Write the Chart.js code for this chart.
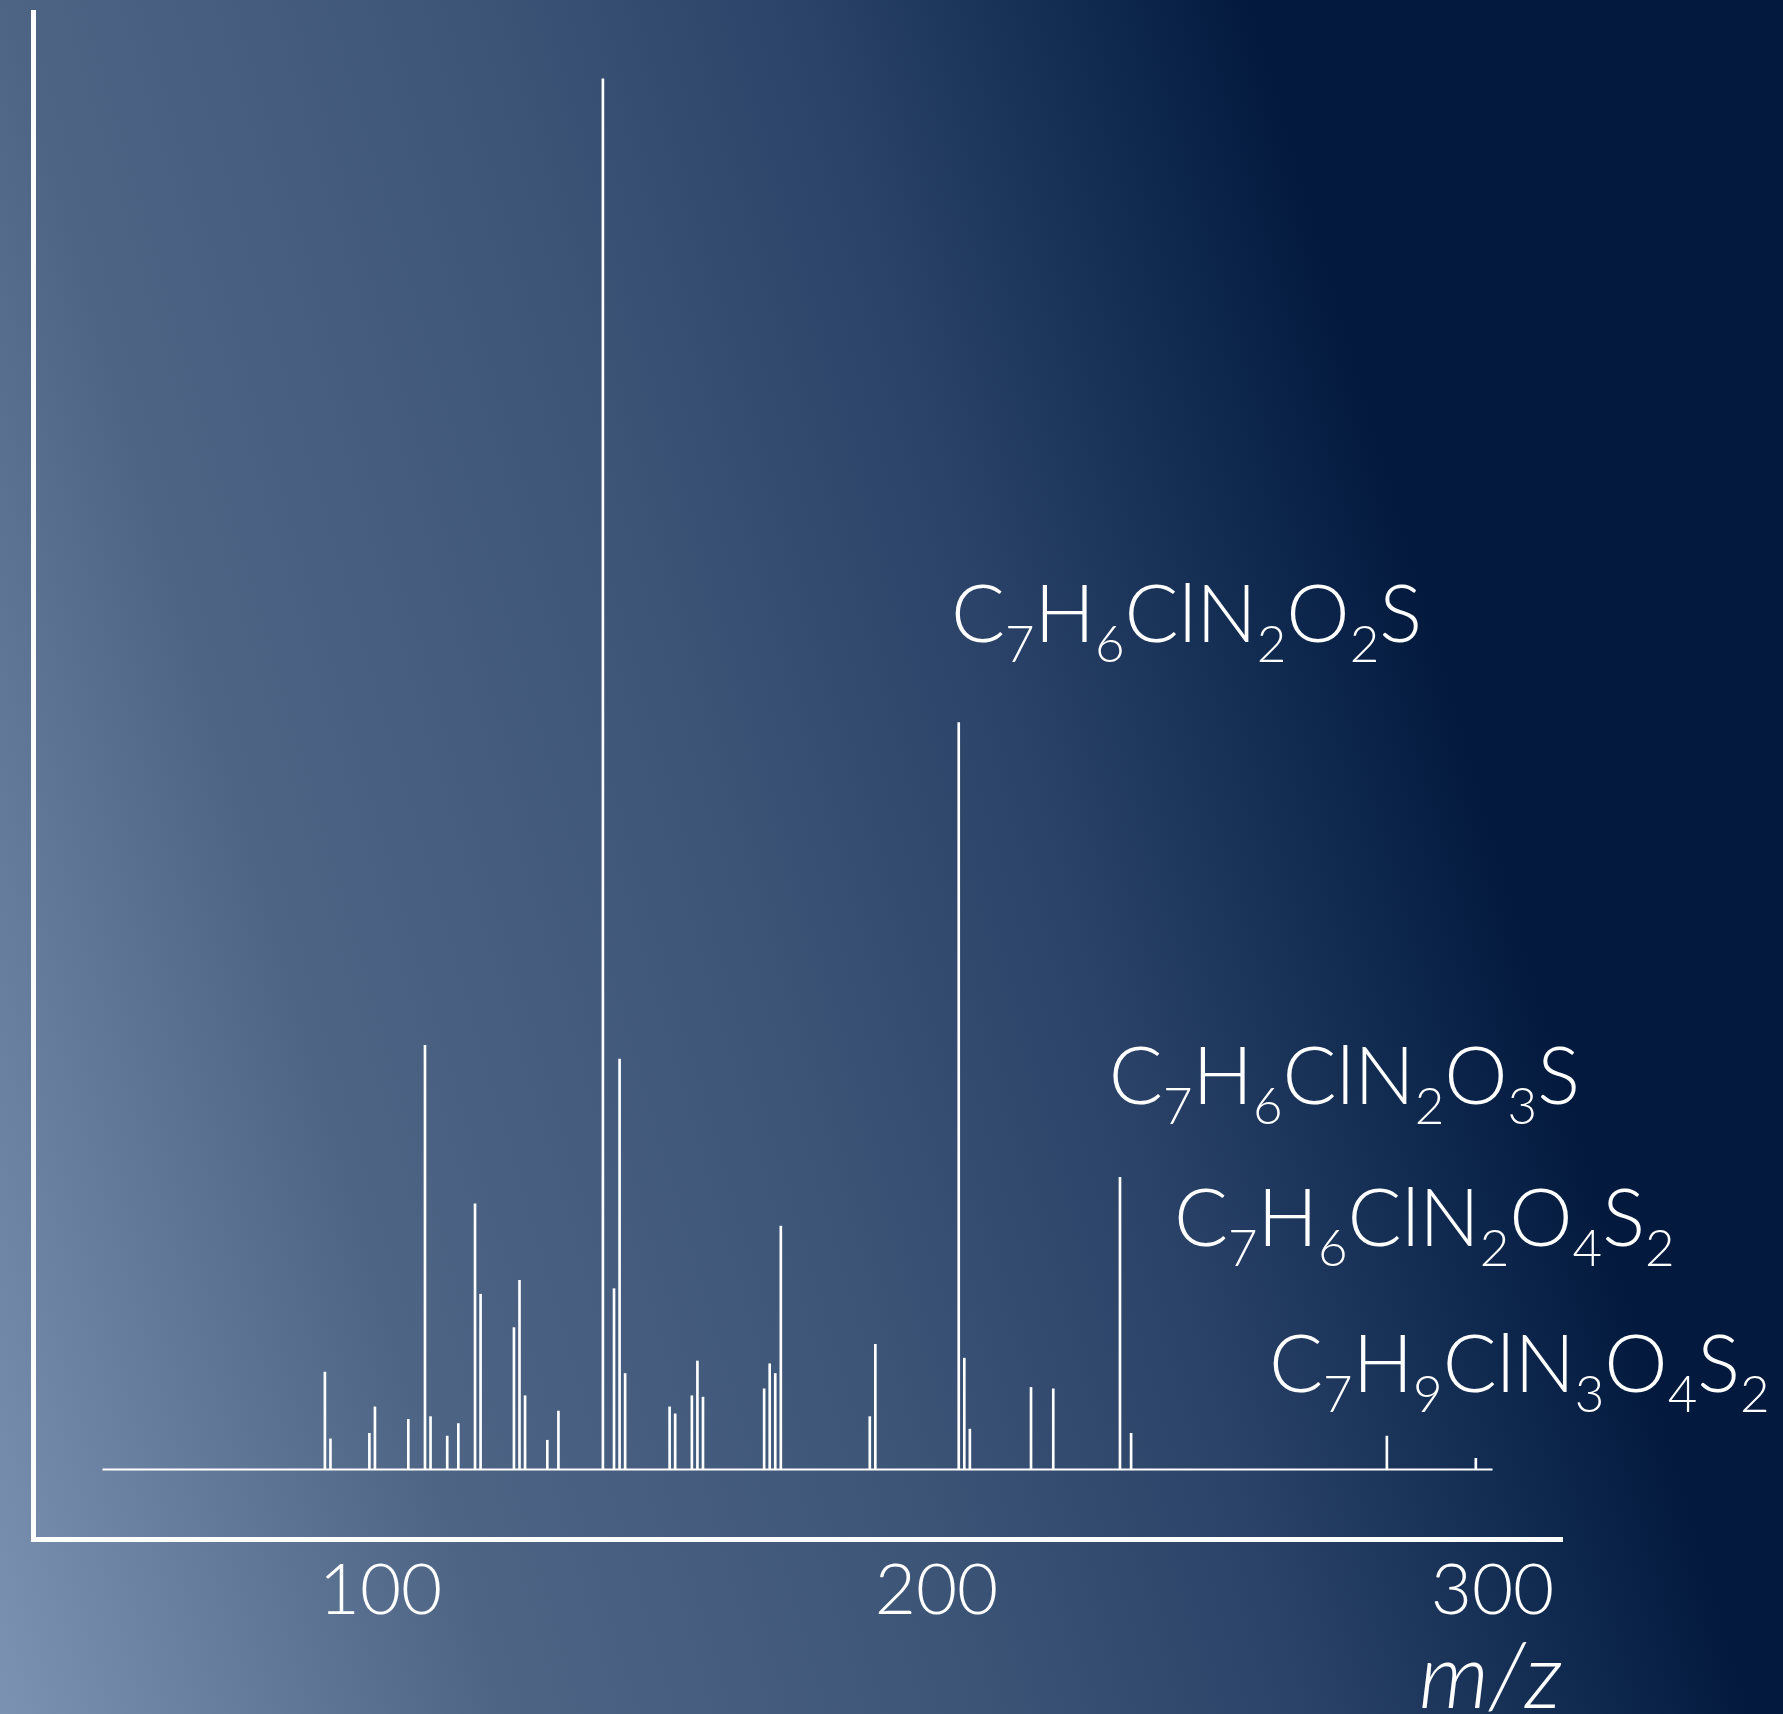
<!DOCTYPE html>
<html>
<head>
<meta charset="utf-8">
<title>Mass spectrum</title>
<script src="https://cdn.jsdelivr.net/npm/chart.js@4.4.1/dist/chart.umd.min.js"></script>
<style>
  html, body { margin: 0; padding: 0; background: #031a3e; overflow: hidden; }
  #wrap { width: 1783px; height: 1714px; }
  canvas { display: block; }
</style>
</head>
<body>
<div id="wrap"><canvas id="spectrum" width="1783" height="1714"></canvas></div>
<script>
// Peak list: m/z and relative intensity (%)
const mzValues = [90, 91, 98, 99, 105, 108, 109, 112, 114, 117,
                  118, 124, 125, 126, 130, 132, 140, 142, 143, 144,
                  152, 153, 156, 157, 158, 169, 170, 171, 172, 188,
                  189, 204, 205, 206, 217, 221, 233, 235, 281, 297];
const intensities = [7.0, 2.2, 2.6, 4.5, 3.6, 30.5, 3.8, 2.4, 3.3, 19.1,
                     12.6, 10.2, 13.6, 5.3, 2.1, 4.2, 100, 13.0, 29.5, 6.9,
                     4.5, 4.0, 5.3, 7.8, 5.2, 5.8, 7.6, 6.9, 17.5, 3.8,
                     9.0, 53.7, 8.0, 2.9, 5.9, 5.8, 21.0, 2.6, 2.4, 0.8];

// Scanned m/z window (drawn as the spectrum baseline)
const scanRange = [50, 300];

// Axis tick labels
const tickValues = [100, 200, 300];

// Fragment formula annotations, anchored in data space (m/z, intensity)
const formulaLabels = ["C7H6ClN2O2S", "C7H6ClN2O3S", "C7H6ClN2O4S2", "C7H9ClN3O4S2"];
const formulaMz = [202.6, 231.0, 242.7, 259.8];
const formulaLevel = [59.5, 26.3, 16.1, 5.6];

const FONT = "Lato, 'Open Sans', 'DejaVu Sans', sans-serif";

const peakPoints = mzValues.map((m, i) => ({ x: m, y: intensities[i] }));
const baselinePoints = scanRange.map(m => ({ x: m, y: 0 }));

// Diagonal slate-to-navy backdrop over the whole canvas
const backdrop = {
  id: 'backdrop',
  beforeDraw(chart) {
    const { ctx, width, height } = chart;
    const g = ctx.createLinearGradient(0, height, 1613, 1244);
    g.addColorStop(0.00, '#7b92b2');
    g.addColorStop(0.29, '#4d6485');
    g.addColorStop(0.55, '#3d5577');
    g.addColorStop(0.75, '#2a4267');
    g.addColorStop(0.90, '#112a50');
    g.addColorStop(1.00, '#031a3e');
    ctx.save();
    ctx.fillStyle = g;
    ctx.fillRect(0, 0, width, height);
    ctx.restore();
  }
};

// Chemical formulas with numeric subscripts
const formulas = {
  id: 'formulas',
  afterDatasetsDraw(chart) {
    const { ctx, scales } = chart;
    const mainFont = `300 80px ${FONT}`;
    const subFont = `300 51px ${FONT}`;
    ctx.save();
    ctx.fillStyle = '#ffffff';
    ctx.textAlign = 'left';
    ctx.textBaseline = 'alphabetic';
    formulaLabels.forEach((f, i) => {
      let x = scales.x.getPixelForValue(formulaMz[i]);
      const y = scales.y.getPixelForValue(formulaLevel[i]);
      const parts = f.match(/[A-Z][a-z]?|\d+/g);
      parts.forEach(p => {
        const isSub = /^\d+$/.test(p);
        ctx.font = isSub ? subFont : mainFont;
        ctx.fillText(p, x, isSub ? y + 20 : y);
        x += ctx.measureText(p).width;
      });
    });
    ctx.restore();
  }
};

new Chart(document.getElementById('spectrum'), {
  type: 'bar',
  data: {
    datasets: [
      {
        type: 'bar',
        data: peakPoints,
        backgroundColor: '#ffffff',
        borderWidth: 0,
        barThickness: 2,
        grouped: false
      },
      {
        type: 'line',
        data: baselinePoints,
        borderColor: '#ffffff',
        borderWidth: 2,
        pointRadius: 0,
        fill: false
      }
    ]
  },
  options: {
    responsive: false,
    animation: false,
    devicePixelRatio: 1,
    layout: { padding: { left: 33, top: 12, right: 221, bottom: 0 } },
    plugins: { legend: { display: false }, tooltip: { enabled: false } },
    scales: {
      x: {
        type: 'linear',
        offset: false,
        min: 37.5,
        max: 312.5,
        afterBuildTicks: s => { s.ticks = tickValues.map(v => ({ value: v })); },
        afterFit: s => { s.height = 175; },
        grid: { display: false, drawTicks: false, offset: false },
        border: { display: true, color: '#ffffff', width: 5 },
        ticks: {
          color: '#ffffff',
          padding: 10,
          maxRotation: 0,
          autoSkip: false,
          font: { family: FONT, size: 71, weight: 300 }
        },
        title: {
          display: true,
          text: 'm/z',
          align: 'end',
          color: '#ffffff',
          padding: { top: 0, bottom: 8 },
          font: { family: FONT, size: 90, style: 'italic', weight: 300, lineHeight: 0.6 }
        }
      },
      y: {
        min: -5,
        max: 104.8,
        afterFit: s => { s.width = 0; },
        grid: { display: false, drawTicks: false },
        border: { display: true, color: '#ffffff', width: 5 },
        ticks: { display: false }
      }
    }
  },
  plugins: [backdrop, formulas]
});
</script>
</body>
</html>
